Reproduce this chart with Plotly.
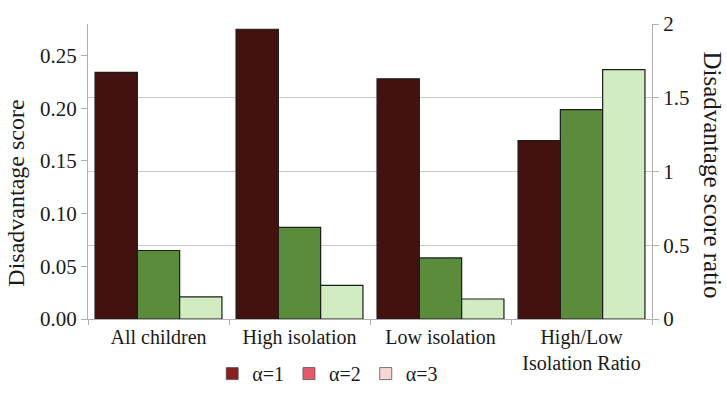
import plotly.graph_objects as go

# Disadvantage scores by group (left axis) and the high/low isolation ratio (right axis)
groups = ["All children", "High isolation", "Low isolation"]
ratio_group = ["High/Low<br>Isolation Ratio"]
series_names = ["α=1", "α=2", "α=3"]

score_a1 = [0.234, 0.275, 0.228]
score_a2 = [0.065, 0.087, 0.058]
score_a3 = [0.021, 0.032, 0.019]
ratio_values = [1.21, 1.42, 1.69]

bar_colors = ["#44120e", "#5a8c3c", "#d2ecc2"]
legend_colors = ["#8a1f22", "#e2596a", "#f6d6d6"]

FONT = "Liberation Serif"
AXIS_GREY = "#b0b0b0"

fig = go.Figure()

score_series = [score_a1, score_a2, score_a3]
for i, name in enumerate(series_names):
    fig.add_trace(go.Bar(
        x=groups, y=score_series[i], name=name, yaxis="y",
        offsetgroup=str(i), showlegend=False,
        marker=dict(color=bar_colors[i], line=dict(color="#1c1c1c", width=1.2)),
    ))
for i, name in enumerate(series_names):
    fig.add_trace(go.Bar(
        x=ratio_group, y=[ratio_values[i]], name=name, yaxis="y2",
        offsetgroup=str(i), showlegend=False,
        marker=dict(color=bar_colors[i], line=dict(color="#1c1c1c", width=1.2)),
    ))
# legend entries
for i, name in enumerate(series_names):
    fig.add_trace(go.Bar(
        x=[None], y=[None], name=name, yaxis="y",
        marker=dict(color=legend_colors[i], line=dict(color="#555555", width=0.8)),
    ))

fig.update_layout(
    width=727, height=405,
    margin=dict(l=88, r=75, t=19, b=83),
    paper_bgcolor="white", plot_bgcolor="white",
    font=dict(family=FONT, size=20, color="#1a1a1a"),
    barmode="group", bargap=0.1, bargroupgap=0,
    xaxis=dict(
        categoryorder="array", categoryarray=groups + ratio_group,
        showline=True, linecolor=AXIS_GREY, linewidth=1,
        ticks="outside", tickson="boundaries", ticklen=5, tickcolor=AXIS_GREY,
        showgrid=False, tickfont=dict(size=20),
    ),
    yaxis=dict(
        range=[0, 0.28], dtick=0.05, tickformat=".2f",
        showline=True, linecolor=AXIS_GREY, linewidth=1,
        ticks="outside", ticklen=6, tickcolor=AXIS_GREY,
        showgrid=False, zeroline=False, tickfont=dict(size=21),
    ),
    yaxis2=dict(
        overlaying="y", side="right",
        range=[0, 2], dtick=0.5,
        showline=True, linecolor=AXIS_GREY, linewidth=1,
        ticks="outside", ticklen=6, tickcolor=AXIS_GREY,
        showgrid=True, gridcolor="#c8c8c8", gridwidth=1, zeroline=False,
        tickfont=dict(size=21),
    ),
    legend=dict(
        orientation="h", x=0.425, xanchor="center", y=-0.185, yanchor="middle",
        font=dict(size=20), itemwidth=30, tracegroupgap=0,
    ),
    annotations=[
        dict(text="Disadvantage score", textangle=-90, x=(16 - 88) / 564, xref="paper",
             xanchor="center", y=0.425, yanchor="middle", yref="paper", showarrow=False,
             font=dict(size=24)),
        dict(text="Disadvantage score ratio", textangle=90, x=(713 - 88) / 564, xref="paper",
             xanchor="center", y=0.49, yanchor="middle", yref="paper", showarrow=False,
             font=dict(size=25)),
    ],
)

fig.write_html("out.html")
